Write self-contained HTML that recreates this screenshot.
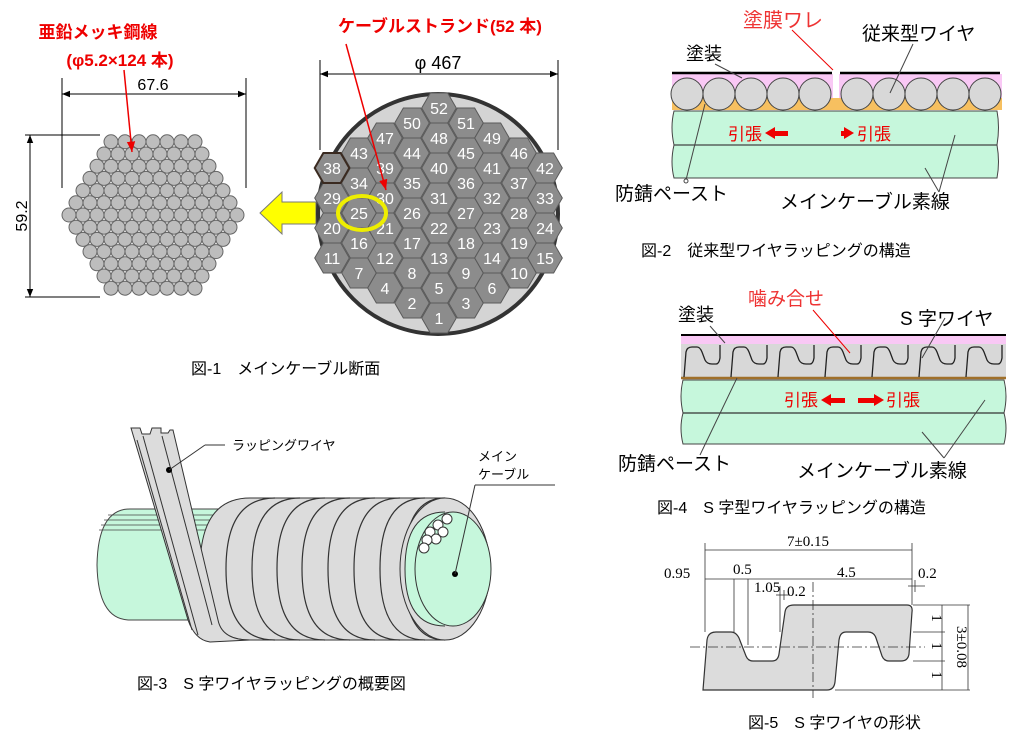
<!DOCTYPE html>
<html><head><meta charset="utf-8"><style>
html,body{margin:0;padding:0;background:#fff;}
svg{display:block;font-family:"Liberation Sans","Noto Sans CJK JP",sans-serif;}
.serif{font-family:"Liberation Serif","Noto Serif CJK SC",serif;}
</style></head><body>
<svg width="1030" height="744" viewBox="0 0 1030 744" xmlns="http://www.w3.org/2000/svg" xmlns:xlink="http://www.w3.org/1999/xlink">
<defs>
<marker id="ab" viewBox="0 0 10 10" refX="10" refY="5" markerWidth="8" markerHeight="8" orient="auto-start-reverse"><path d="M0,1 L10,5 L0,9z" fill="#000"/></marker>
<marker id="ar" viewBox="0 0 10 10" refX="10" refY="5" markerWidth="7" markerHeight="7" orient="auto"><path d="M0,1 L10,5 L0,9z" fill="#e00"/></marker>
<g id="r7"><circle cx="0" cy="0" r="7"/><circle cx="14" cy="0" r="7"/><circle cx="28" cy="0" r="7"/><circle cx="42" cy="0" r="7"/><circle cx="56" cy="0" r="7"/><circle cx="70" cy="0" r="7"/><circle cx="84" cy="0" r="7"/></g>
<g id="r8"><use xlink:href="#r7"/><circle cx="98" cy="0" r="7"/></g>
<g id="r9"><use xlink:href="#r8"/><circle cx="112" cy="0" r="7"/></g>
<g id="r10"><use xlink:href="#r9"/><circle cx="126" cy="0" r="7"/></g>
<g id="r11"><use xlink:href="#r10"/><circle cx="140" cy="0" r="7"/></g>
<g id="r12"><use xlink:href="#r11"/><circle cx="154" cy="0" r="7"/></g>
<g id="r13"><use xlink:href="#r12"/><circle cx="168" cy="0" r="7"/></g>
<polygon id="hx" points="-17.3,0 -8.65,-15 8.65,-15 17.3,0 8.65,15 -8.65,15"/>
<g id="c4"><use xlink:href="#hx"/><use xlink:href="#hx" y="30"/><use xlink:href="#hx" y="60"/><use xlink:href="#hx" y="90"/></g>
<g id="c5"><use xlink:href="#c4"/><use xlink:href="#hx" y="120"/></g>
<g id="c6"><use xlink:href="#c5"/><use xlink:href="#hx" y="150"/></g>
<g id="c7"><use xlink:href="#c6"/><use xlink:href="#hx" y="180"/></g>
<g id="c8"><use xlink:href="#c7"/><use xlink:href="#hx" y="210"/></g>
<path id="sw" d="M12,377 L14,352 Q15,347 20,347 L25,347 Q28,347 30,352 L33,360 Q35,364 40,364 L44,364 Q47,364 48,358 L48,345" fill="none" stroke="#222" stroke-width="1.3"/>
</defs>

<!-- ===== Fig 1 left ===== -->
<g fill="#bdbdbd" stroke="#666" stroke-width="1">
<use xlink:href="#r7" x="111" y="141.8"/>
<use xlink:href="#r8" x="104" y="154"/>
<use xlink:href="#r9" x="97" y="166.2"/>
<use xlink:href="#r10" x="90" y="178.4"/>
<use xlink:href="#r11" x="83" y="190.6"/>
<use xlink:href="#r12" x="76" y="202.8"/>
<use xlink:href="#r13" x="69" y="215"/>
<use xlink:href="#r12" x="76" y="227.2"/>
<use xlink:href="#r11" x="83" y="239.4"/>
<use xlink:href="#r10" x="90" y="251.6"/>
<use xlink:href="#r9" x="97" y="263.8"/>
<use xlink:href="#r8" x="104" y="276"/>
<use xlink:href="#r7" x="111" y="288.2"/>
</g>
<g stroke="#000" stroke-width="1" fill="none">
<line x1="62" y1="78" x2="62" y2="188"/><line x1="246" y1="78" x2="246" y2="188"/>
<line x1="62" y1="94" x2="246" y2="94" marker-start="url(#ab)" marker-end="url(#ab)"/>
<line x1="25" y1="135" x2="100" y2="135"/><line x1="25" y1="297" x2="100" y2="297"/>
<line x1="30" y1="135" x2="30" y2="297" marker-start="url(#ab)" marker-end="url(#ab)"/>
</g>
<text x="153" y="90" font-size="16" text-anchor="middle">67.6</text>
<text transform="translate(27,216) rotate(-90)" font-size="16" text-anchor="middle">59.2</text>
<text x="98" y="38" font-size="17" font-weight="bold" fill="#e00" text-anchor="middle">亜鉛メッキ鋼線</text>
<text x="120" y="66" font-size="17" font-weight="bold" fill="#e00" text-anchor="middle">(φ5.2×124 本)</text>
<line x1="124" y1="70" x2="132" y2="152" stroke="#e00" stroke-width="1.5" marker-end="url(#ar)"/>

<path d="M260,213 L282,192 L282,202 L316,202 L316,224 L282,224 L282,234 Z" fill="#ff0" stroke="#777" stroke-width="1"/>

<!-- ===== Fig 1 right ===== -->
<circle cx="438" cy="214" r="120" fill="#d4d4d4" stroke="#333" stroke-width="4"/>
<g fill="#8c8c8c" stroke="#5a5a5a" stroke-width="1">
<use xlink:href="#c4" x="332" y="168"/>
<use xlink:href="#c5" x="359" y="153"/>
<use xlink:href="#c6" x="385" y="138"/>
<use xlink:href="#c7" x="412" y="123"/>
<use xlink:href="#c8" x="439" y="108"/>
<use xlink:href="#c7" x="466" y="123"/>
<use xlink:href="#c6" x="492" y="138"/>
<use xlink:href="#c5" x="519" y="153"/>
<use xlink:href="#c4" x="545" y="168"/>
</g>
<use xlink:href="#hx" x="332" y="168" fill="#8c8c8c" stroke="#3a2a20" stroke-width="2"/>
<g fill="#fff" font-size="16" text-anchor="middle">
<text x="332" y="264">11</text><text x="332" y="234">20</text><text x="332" y="204">29</text><text x="332" y="174">38</text>
<text x="359" y="279">7</text><text x="359" y="249">16</text><text x="359" y="219">25</text><text x="359" y="189">34</text><text x="359" y="159">43</text>
<text x="385" y="294">4</text><text x="385" y="264">12</text><text x="385" y="234">21</text><text x="385" y="204">30</text><text x="385" y="174">39</text><text x="385" y="144">47</text>
<text x="412" y="309">2</text><text x="412" y="279">8</text><text x="412" y="249">17</text><text x="412" y="219">26</text><text x="412" y="189">35</text><text x="412" y="159">44</text><text x="412" y="129">50</text>
<text x="439" y="324">1</text><text x="439" y="294">5</text><text x="439" y="264">13</text><text x="439" y="234">22</text><text x="439" y="204">31</text><text x="439" y="174">40</text><text x="439" y="144">48</text><text x="439" y="114">52</text>
<text x="466" y="309">3</text><text x="466" y="279">9</text><text x="466" y="249">18</text><text x="466" y="219">27</text><text x="466" y="189">36</text><text x="466" y="159">45</text><text x="466" y="129">51</text>
<text x="492" y="294">6</text><text x="492" y="264">14</text><text x="492" y="234">23</text><text x="492" y="204">32</text><text x="492" y="174">41</text><text x="492" y="144">49</text>
<text x="519" y="279">10</text><text x="519" y="249">19</text><text x="519" y="219">28</text><text x="519" y="189">37</text><text x="519" y="159">46</text>
<text x="545" y="264">15</text><text x="545" y="234">24</text><text x="545" y="204">33</text><text x="545" y="174">42</text>
</g>
<ellipse cx="362" cy="213" rx="24" ry="17" fill="none" stroke="#ee0" stroke-width="4"/>
<g stroke="#000" stroke-width="1" fill="none">
<line x1="320" y1="60" x2="320" y2="150"/><line x1="558" y1="60" x2="558" y2="150"/>
<line x1="320" y1="74" x2="558" y2="74" marker-start="url(#ab)" marker-end="url(#ab)"/>
</g>
<rect x="400" y="52" width="80" height="20" fill="#fff"/>
<text x="438" y="69" font-size="18" text-anchor="middle">φ 467</text>
<text x="440" y="32" font-size="17" font-weight="bold" fill="#e00" text-anchor="middle">ケーブルストランド(52 本)</text>
<line x1="346" y1="44" x2="386" y2="190" stroke="#e00" stroke-width="1.5" marker-end="url(#ar)"/>

<text x="191" y="374" font-size="16">図-1　メインケーブル断面</text>

<!-- ===== Fig 2 ===== -->
<rect x="672" y="74" width="330" height="26" fill="#f9c8f5"/>
<rect x="833" y="70" width="6" height="30" fill="#fff"/>
<rect x="672" y="98" width="330" height="12" fill="#f7c060"/>
<line x1="672" y1="73" x2="832" y2="73" stroke="#000" stroke-width="2.5"/>
<line x1="840" y1="73" x2="1000" y2="73" stroke="#000" stroke-width="2.5"/>
<g fill="#d8d8d8" stroke="#444" stroke-width="1">
<circle cx="687" cy="94" r="16"/><circle cx="719" cy="94" r="16"/><circle cx="751" cy="94" r="16"/><circle cx="783" cy="94" r="16"/><circle cx="815" cy="94" r="16"/>
<circle cx="857" cy="94" r="16"/><circle cx="889" cy="94" r="16"/><circle cx="921" cy="94" r="16"/><circle cx="953" cy="94" r="16"/><circle cx="985" cy="94" r="16"/>
</g>
<path d="M674,111 L997,111 Q1000,127 997,145 Q1000,162 997,178 L674,178 Q670,162 674,145 Q670,127 674,111Z" fill="#c6f7dc" stroke="#444" stroke-width="1"/>
<line x1="674" y1="145" x2="997" y2="145" stroke="#444" stroke-width="1.2"/>
<text x="762" y="140" font-size="17" fill="#e00" text-anchor="end">引張</text>
<path d="M765,133 L775,127 L775,131 L788,131 L788,136 L775,136 L775,139Z" fill="#e00"/>
<path d="M854,133 L844,127 L844,131 L841,131 L841,136 L844,136 L844,139Z" fill="#e00"/>
<rect x="841" y="131" width="5" height="5" fill="#e00"/>
<text x="857" y="140" font-size="17" fill="#e00">引張</text>
<text x="743" y="27" font-size="20" fill="#e33">塗膜ワレ</text>
<line x1="792" y1="30" x2="833" y2="70" stroke="#e00" stroke-width="1"/>
<text x="686" y="60" font-size="18">塗装</text>
<line x1="715" y1="64" x2="742" y2="78" stroke="#444"/>
<text x="862" y="40" font-size="19">従来型ワイヤ</text>
<line x1="913" y1="44" x2="890" y2="93" stroke="#444"/>
<text x="615" y="200" font-size="19">防錆ペースト</text>
<line x1="686" y1="180" x2="705" y2="104" stroke="#444"/>
<circle cx="686" cy="181" r="2" fill="#fff" stroke="#444"/>
<text x="780" y="208" font-size="19">メインケーブル素線</text>
<line x1="939" y1="192" x2="925" y2="168" stroke="#444"/>
<line x1="939" y1="192" x2="955" y2="135" stroke="#444"/>
<text x="641" y="256" font-size="16">図-2　従来型ワイヤラッピングの構造</text>

<!-- ===== Fig 4 ===== -->
<rect x="681" y="336" width="325" height="8" fill="#f9c8f5"/>
<rect x="681" y="344" width="325" height="34" fill="#d8d8d8"/>
<line x1="681" y1="335" x2="1006" y2="335" stroke="#000" stroke-width="2"/>
<line x1="681" y1="378" x2="1006" y2="378" stroke="#a0702a" stroke-width="2.5"/>
<use xlink:href="#sw" x="672"/><use xlink:href="#sw" x="719"/><use xlink:href="#sw" x="766"/><use xlink:href="#sw" x="813"/><use xlink:href="#sw" x="860"/><use xlink:href="#sw" x="907"/><use xlink:href="#sw" x="954"/>
<path d="M683,380 L1004,380 Q1008,396 1004,413 Q1008,428 1004,444 L683,444 Q679,428 683,413 Q679,396 683,380Z" fill="#c6f7dc" stroke="#444" stroke-width="1"/>
<line x1="683" y1="413" x2="1004" y2="413" stroke="#333" stroke-width="1.2"/>
<text x="818" y="406" font-size="17" fill="#e00" text-anchor="end">引張</text>
<path d="M821,400 L831,394 L831,398 L845,398 L845,403 L831,403 L831,406Z" fill="#e00"/>
<path d="M884,400 L874,394 L874,398 L858,398 L858,403 L874,403 L874,406Z" fill="#e00"/>
<text x="886" y="406" font-size="17" fill="#e00">引張</text>
<text x="748" y="305" font-size="19" fill="#e33">噛み合せ</text>
<line x1="813" y1="310" x2="850" y2="353" stroke="#e00" stroke-width="1"/>
<text x="678" y="321" font-size="18">塗装</text>
<line x1="710" y1="326" x2="725" y2="343" stroke="#444"/>
<text x="900" y="325" font-size="19">S 字ワイヤ</text>
<line x1="945" y1="318" x2="922" y2="358" stroke="#444"/>
<text x="618" y="470" font-size="19">防錆ペースト</text>
<line x1="700" y1="455" x2="737" y2="378" stroke="#444"/>
<text x="797" y="477" font-size="19">メインケーブル素線</text>
<line x1="944" y1="458" x2="922" y2="432" stroke="#444"/>
<line x1="944" y1="458" x2="985" y2="400" stroke="#444"/>
<text x="657" y="513" font-size="16">図-4　S 字型ワイヤラッピングの構造</text>

<!-- ===== Fig 3 ===== -->
<path d="M130,509 L225,509 L225,620 L130,620 Q98,620 97,565 Q98,509 130,509Z" fill="#c6f7dc" stroke="#444" stroke-width="1"/>
<g stroke="#444" stroke-width="0.8"><line x1="108" y1="515" x2="225" y2="515"/><line x1="104" y1="520" x2="225" y2="520"/><line x1="101" y1="525" x2="225" y2="525"/><line x1="99" y1="530" x2="225" y2="530"/></g>
<path d="M250,498 L445,498 L445,640 L250,640 Q200,640 200,569 Q200,498 250,498Z" fill="#dcdcdc" stroke="#333" stroke-width="1"/>
<g fill="none" stroke="#333" stroke-width="1.2">
<path d="M275,498 Q226,498 226,569 Q226,640 275,640"/>
<path d="M300,498 Q252,498 252,569 Q252,640 300,640"/>
<path d="M325,498 Q277,498 277,569 Q277,640 325,640"/>
<path d="M350,498 Q302,498 302,569 Q302,640 350,640"/>
<path d="M375,498 Q328,498 328,569 Q328,640 375,640"/>
<path d="M400,498 Q354,498 354,569 Q354,640 400,640"/>
<path d="M425,498 Q380,498 380,569 Q380,640 425,640"/>
<path d="M445,498 Q404,498 404,569 Q404,640 445,640"/>
</g>
<ellipse cx="445" cy="569" rx="45" ry="71" fill="#dcdcdc" stroke="#333"/>
<path d="M445,512 Q405,512 405,569 Q405,626 445,626" fill="#c6f7dc" stroke="#333"/>
<ellipse cx="453" cy="569" rx="38" ry="57" fill="#c6f7dc" stroke="#333"/>
<g fill="#fff" stroke="#333" stroke-width="1">
<circle cx="447" cy="519" r="5"/><circle cx="438" cy="525" r="5"/><circle cx="443" cy="532" r="5"/><circle cx="430" cy="532" r="5"/><circle cx="436" cy="539" r="5"/><circle cx="427" cy="540" r="5"/><circle cx="424" cy="548" r="5"/>
</g>
<circle cx="455" cy="574" r="3" fill="#000"/>
<line x1="455" y1="574" x2="475" y2="485" stroke="#333"/>
<line x1="475" y1="485" x2="555" y2="485" stroke="#333"/>
<text x="478" y="461" font-size="13">メイン</text>
<text x="478" y="479" font-size="13">ケーブル</text>
<path d="M131,428 L140,428 L142,434 L150,434 L152,428 L161,428 L161,433 L168,433 L170,430 L173,430 L218,620 Q222,640 250,640 L210,642 Q195,640 188,620 Z" fill="#dcdcdc" stroke="#333" stroke-width="1"/>
<g fill="none" stroke="#333" stroke-width="1"><line x1="137" y1="440" x2="192" y2="630"/><line x1="143" y1="436" x2="198" y2="635"/><line x1="162" y1="436" x2="212" y2="625"/></g>
<circle cx="169" cy="470" r="3" fill="#000"/>
<line x1="169" y1="470" x2="205" y2="445" stroke="#333"/>
<line x1="205" y1="445" x2="225" y2="445" stroke="#333"/>
<text x="232" y="450" font-size="13">ラッピングワイヤ</text>
<text x="137" y="689" font-size="16">図-3　S 字ワイヤラッピングの概要図</text>

<!-- ===== Fig 5 ===== -->
<path d="M703,690 L707,640 Q708,632 716,632 L731,632 Q736,632 739,638 L746,656 Q748,661 753,661 L772,661 Q778,661 779,654 L785,612 Q786,605 794,605 L907,605 Q913,605 912,612 L909,654 Q908,661 901,661 L889,661 Q884,661 882,656 L876,638 Q874,632 868,632 L846,632 Q840,632 839,640 L835,682 Q834,690 827,690 L711,690 Q703,690 703,690Z" fill="#dcdcdc" stroke="#333" stroke-width="1.2"/>
<g stroke="#333" stroke-width="0.8" fill="none">
<line x1="705" y1="543" x2="705" y2="632"/><line x1="912" y1="543" x2="912" y2="605"/>
<line x1="705" y1="550" x2="912" y2="550"/>
<line x1="705" y1="579" x2="912" y2="579"/>
<line x1="734" y1="579" x2="734" y2="632"/><line x1="748" y1="579" x2="748" y2="645"/>
<line x1="780" y1="586" x2="780" y2="632"/><line x1="776" y1="595" x2="790" y2="595"/><line x1="784" y1="590" x2="784" y2="600"/>
<line x1="908" y1="586" x2="925" y2="586"/><line x1="915" y1="580" x2="915" y2="592"/>
<line x1="913" y1="605" x2="970" y2="605"/><line x1="913" y1="632" x2="945" y2="632"/><line x1="913" y1="661" x2="945" y2="661"/><line x1="835" y1="690" x2="970" y2="690"/>
<line x1="942" y1="605" x2="942" y2="690"/><line x1="968" y1="605" x2="968" y2="690"/>
<line x1="690" y1="647" x2="925" y2="647" stroke-dasharray="10,3,2,3"/>
<line x1="813" y1="582" x2="813" y2="698" stroke-dasharray="10,3,2,3"/>
</g>
<g class="serif" font-size="15" fill="#000">
<text x="808" y="546" text-anchor="middle">7±0.15</text>
<text x="664" y="578">0.95</text>
<text x="733" y="574">0.5</text>
<text x="837" y="577">4.5</text>
<text x="918" y="578">0.2</text>
<text x="754" y="592">1.05</text>
<text x="787" y="596">0.2</text>
<text transform="translate(932,618) rotate(90)" text-anchor="middle">1</text>
<text transform="translate(932,646) rotate(90)" text-anchor="middle">1</text>
<text transform="translate(932,675) rotate(90)" text-anchor="middle">1</text>
<text transform="translate(957,647) rotate(90)" text-anchor="middle">3±0.08</text>
</g>
<text x="748" y="728" font-size="16">図-5　S 字ワイヤの形状</text>
</svg>
</body></html>
